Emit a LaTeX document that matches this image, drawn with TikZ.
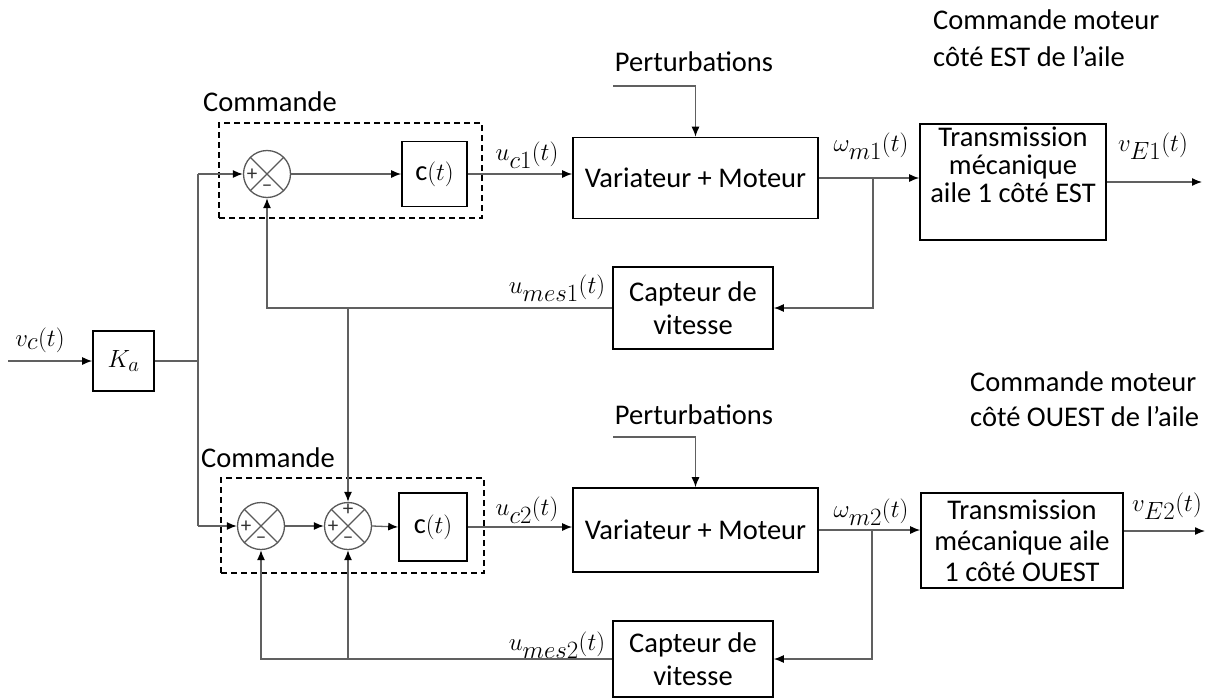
\documentclass[tikz,border=0pt]{standalone}
\usepackage{fontspec}
\setmainfont{Carlito}
\usetikzlibrary{arrows.meta,calc}
\begin{document}
\begin{tikzpicture}[x=1pt,y=-1pt,
  font=\fontsize{28.5}{33}\selectfont,
  ln/.style={draw=gray!75!black,line width=1.3pt},
  arr/.style={-{Latex[length=10pt,width=8pt,color=black]}},
  blk/.style={draw=black,line width=1.6pt,align=center,inner sep=0pt},
  dbox/.style={draw=black,line width=1.5pt,dash pattern=on 6pt off 4pt,inner sep=0pt},
  sumj/.style={circle,draw=gray!70!black,line width=1.3pt,minimum size=47pt,inner sep=0pt,
    path picture={\draw[gray!70!black,line width=1.3pt]
      (path picture bounding box.north west)--(path picture bounding box.south east)
      (path picture bounding box.north east)--(path picture bounding box.south west);}},
  sgn/.style={inner sep=0pt,text=gray!40!black,font=\fontsize{21}{21}\selectfont},
  lab/.style={inner sep=0pt},
  mlab/.style={inner sep=0pt,font=\fontsize{33}{36}\selectfont},
]
\useasboundingbox (0,0) rectangle (1215,699);

% ---------- dashed "Commande" boxes ----------
\node[dbox,minimum width=263pt,minimum height=95pt] (dA) at (350.5,170.5) {};
\node[dbox,minimum width=263pt,minimum height=95pt] (dB) at (352.5,525.5) {};
\node[lab] (cmA) at (270,102) {Commande};
\node[lab] (cmB) at (268,458) {Commande};

% ---------- top chain ----------
\node[sgn] (sAp) at (252,175) {+};
\node[sgn] (sAm) at (267,188) {--};
\node[sumj] (sA) at (267,174) {};
\node[blk,minimum width=65pt,minimum height=65pt] (cA) at (434.5,174) {c$(t)$};
\node[blk,minimum width=245pt,minimum height=81pt] (mA) at (695.5,178) {Variateur + Moteur};
\node[blk,minimum width=186pt,minimum height=116pt] (tA) at (1013,182) {};
\node[lab,align=center,font=\fontsize{28.5}{28}\selectfont] (tAt) at (1013,165) {Transmission\\mécanique\\aile 1 côté EST};
\node[blk,minimum width=160pt,minimum height=82pt] (cpA) at (693,308) {Capteur de\\vitesse};
\node[lab] (pA) at (694,62) {Perturbations};
\coordinate (pa0) at (613,86);
\coordinate (jA) at (873,178);
\coordinate (oA) at (1202,182);

% ---------- bottom chain ----------
\node[sgn] (sB1p) at (246,527) {+};
\node[sgn] (sB1m) at (261,540) {--};
\node[sumj] (sB1) at (261,526) {};
\node[sgn] (sB2p) at (333,527) {+};
\node[sgn] (sB2t) at (348,510) {+};
\node[sgn] (sB2m) at (348,540) {--};
\node[sumj] (sB2) at (348,526) {};
\node[blk,minimum width=68pt,minimum height=68pt] (cB) at (433,527) {c$(t)$};
\node[blk,minimum width=245pt,minimum height=84pt] (mB) at (695.5,530) {Variateur + Moteur};
\node[blk,minimum width=202pt,minimum height=95pt,font=\fontsize{28.5}{31}\selectfont] (tB) at (1022,540.5) {Transmission\\mécanique aile\\1 côté OUEST};
\node[blk,minimum width=160pt,minimum height=76pt] (cpB) at (693,659) {Capteur de\\vitesse};
\node[lab] (pB) at (694,415) {Perturbations};
\coordinate (pb0) at (613,437);
\coordinate (jB) at (872,530);
\coordinate (oB) at (1205,531);

% ---------- input / gain ----------
\node[blk,minimum width=61pt,minimum height=60pt] (Ka) at (123.5,361) {$K_a$};
\coordinate (in) at (8,361);
\coordinate (jt) at (198,174);
\coordinate (jb) at (198,526);

% ---------- titles ----------
\node[lab,anchor=west,align=left,font=\fontsize{28.5}{37}\selectfont] (tiA) at (933,38.5) {Commande moteur\\côté EST de l’aile};
\node[lab,anchor=west,align=left,font=\fontsize{28.5}{35}\selectfont] (tiB) at (970,399.5) {Commande moteur\\côté OUEST de l’aile};

% ---------- signal labels ----------
\node[mlab] (lvc) at (40,340) {$v_c(t)$};
\node[mlab] (luc1) at (527,155) {$u_{c1}(t)$};
\node[mlab] (lw1) at (871,146) {$\omega_{m1}(t)$};
\node[mlab] (lvE1) at (1153,146) {$v_{E1}(t)$};
\node[mlab] (lum1) at (557,288) {$u_{mes1}(t)$};
\node[mlab] (luc2) at (527,510) {$u_{c2}(t)$};
\node[mlab] (lw2) at (871,512) {$\omega_{m2}(t)$};
\node[mlab] (lvE2) at (1167,506) {$v_{E2}(t)$};
\node[mlab] (lum2) at (557,645) {$u_{mes2}(t)$};

% ---------- connectors ----------
\draw[ln,arr] (in) -- (Ka.west);
\draw[ln] (Ka.east) -- (Ka.east -| jt);
\draw[ln] (jt) -- (jb);
\draw[ln,arr] (jt) -- (sA.west);
\draw[ln,arr] (jb) -- (sB1.west);

\draw[ln,arr] (sA.east) -- (cA.west);
\draw[ln,arr] (cA.east) -- (cA.east -| mA.west);
\draw[ln,arr] (mA.east) -- (mA.east -| tA.west);
\draw[ln,arr] (tA.east |- oA) -- (oA);
\draw[ln,arr] (jA) |- (cpA.east);
\draw[ln,arr] (cpA.west) -| (sA.south);
\draw[ln,arr] (sB2.north |- cpA.west) -- (sB2.north);
\draw[ln,arr] (pa0) -| (mA.north);

\draw[ln,arr] (sB1.east) -- (sB2.west);
\draw[ln,arr] (sB2.east) -- (cB.west);
\draw[ln,arr] (cB.east) -- (cB.east -| mB.west);
\draw[ln,arr] (mB.east) -- (mB.east -| tB.west);
\draw[ln,arr] (tB.east |- oB) -- (oB);
\draw[ln,arr] (jB) |- (cpB.east);
\draw[ln,arr] (cpB.west) -| (sB1.south);
\draw[ln,arr] (sB2.south |- cpB.west) -- (sB2.south);
\draw[ln,arr] (pb0) -| (mB.north);
\end{tikzpicture}
\end{document}
